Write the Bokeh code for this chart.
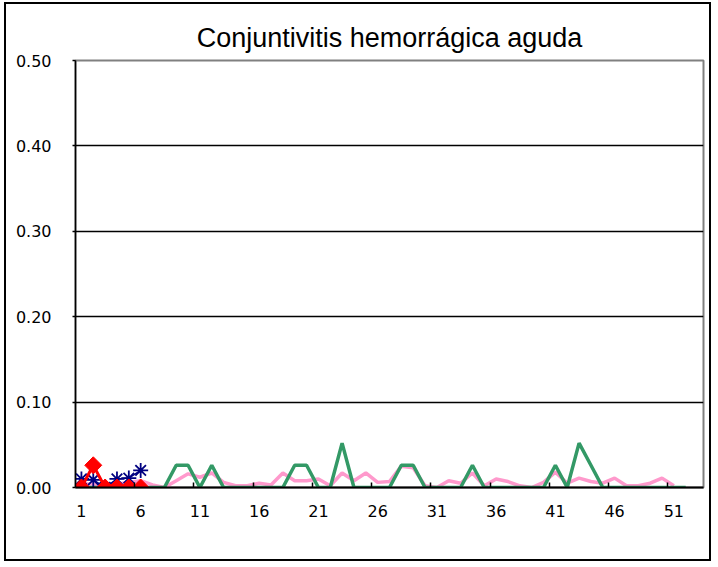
from bokeh.plotting import figure
from bokeh.models import FixedTicker, PrintfTickFormatter, Range1d
from bokeh.embed import file_html
from bokeh.resources import INLINE

# ---- data ----
weeks_all = list(range(1, 53))
green_vals = [0, 0, 0, 0, 0, 0, 0, 0, 0.026, 0.026, 0, 0.026, 0, 0, 0, 0, 0, 0,
              0.026, 0.026, 0, 0, 0.052, 0, 0, 0, 0, 0.026, 0.026, 0, 0, 0, 0,
              0.026, 0, 0, 0, 0, 0, 0, 0.026, 0, 0.052, 0.026, 0, 0, 0, 0, 0, 0, 0, 0]
weeks_pink = list(range(1, 52))
pink_vals = [0.004, 0.004, 0.002, 0.004, 0.006, 0.008, 0.003, 0.0, 0.008, 0.016,
             0.012, 0.017, 0.006, 0.002, 0.002, 0.005, 0.003, 0.017, 0.008, 0.008,
             0.010, 0.002, 0.017, 0.008, 0.017, 0.006, 0.007, 0.025, 0.023, 0.002,
             0.0, 0.008, 0.005, 0.017, 0.002, 0.010, 0.007, 0.002, 0.0, 0.006,
             0.018, 0.005, 0.011, 0.007, 0.005, 0.011, 0.002, 0.002, 0.005, 0.011, 0.002]
weeks_cur = [1, 2, 3, 4, 5, 6]
navy_vals = [0.010, 0.009, 0.0, 0.010, 0.011, 0.020]
red_vals = [0.0, 0.026, 0.0, 0.0, 0.0, 0.0]
x_tick_weeks = [1, 6, 11, 16, 21, 26, 31, 36, 41, 46, 51]
x_minor_ticks = [5.5, 10.5, 15.5, 20.5, 25.5, 30.5, 35.5, 40.5, 45.5, 50.5]
y_ticks = [0.0, 0.1, 0.2, 0.3, 0.4, 0.5]

p = figure(width=707, height=559, output_backend="svg", toolbar_location=None,
           x_range=Range1d(0.5, 53.5), y_range=Range1d(0, 0.5),
           title="Conjuntivitis hemorrágica aguda",
           min_border_left=69, min_border_right=10, min_border_top=56, min_border_bottom=76)
p.styles = {"border": "2px solid black", "margin-left": "4px", "margin-top": "2px"}
p.background_fill_color = "white"
p.border_fill_color = "white"
p.outline_line_color = "#808080"
p.outline_line_width = 2

p.title.text_font = "Liberation Sans"
p.title.text_font_size = "27px"
p.title.text_font_style = "normal"
p.title.align = "center"
p.title.text_color = "black"
p.title.standoff = 15

# y axis
p.yaxis.ticker = FixedTicker(ticks=y_ticks)
p.yaxis.formatter = PrintfTickFormatter(format="%.2f")
p.yaxis.major_label_text_font = "DejaVu Sans"
p.yaxis.major_label_text_font_size = "16px"
p.yaxis.major_label_text_color = "black"
p.yaxis.axis_line_color = "black"
p.yaxis.axis_line_width = 1.5
p.yaxis.major_tick_in = 0
p.yaxis.major_tick_out = 3
p.yaxis.major_tick_line_width = 1.5
p.yaxis.minor_tick_line_color = None
p.yaxis.major_label_standoff = 21

# x axis
p.xaxis.ticker = FixedTicker(ticks=x_tick_weeks, minor_ticks=x_minor_ticks)
p.xaxis.major_label_text_font = "DejaVu Sans"
p.xaxis.major_label_text_font_size = "16px"
p.xaxis.major_label_text_color = "black"
p.xaxis.axis_line_color = "black"
p.xaxis.axis_line_width = 2
p.xaxis.major_tick_line_color = None
p.xaxis.major_tick_in = 0
p.xaxis.major_tick_out = 0
p.xaxis.minor_tick_in = 5
p.xaxis.minor_tick_out = 0
p.xaxis.minor_tick_line_color = "black"
p.xaxis.minor_tick_line_width = 1.5
p.xaxis.major_label_standoff = 17

p.xgrid.grid_line_color = None
p.ygrid.grid_line_color = "black"
p.ygrid.grid_line_width = 1.3

# series
p.line(weeks_pink, pink_vals, line_color="#FF99CC", line_width=3.5)
p.line(weeks_all, green_vals, line_color="#339966", line_width=3.5)
p.line(weeks_cur, navy_vals, line_color="#000080", line_width=1.5)
p.scatter(weeks_cur, navy_vals, marker="asterisk", size=15, line_color="#000080", line_width=1.8)
p.line(weeks_cur, red_vals, line_color="#FF0000", line_width=3)
p.scatter(weeks_cur, red_vals, marker="square", angle=0.785398, size=12,
          fill_color="#FF0000", line_color="#FF0000")

open("out.html", "w").write(file_html(p, INLINE))
